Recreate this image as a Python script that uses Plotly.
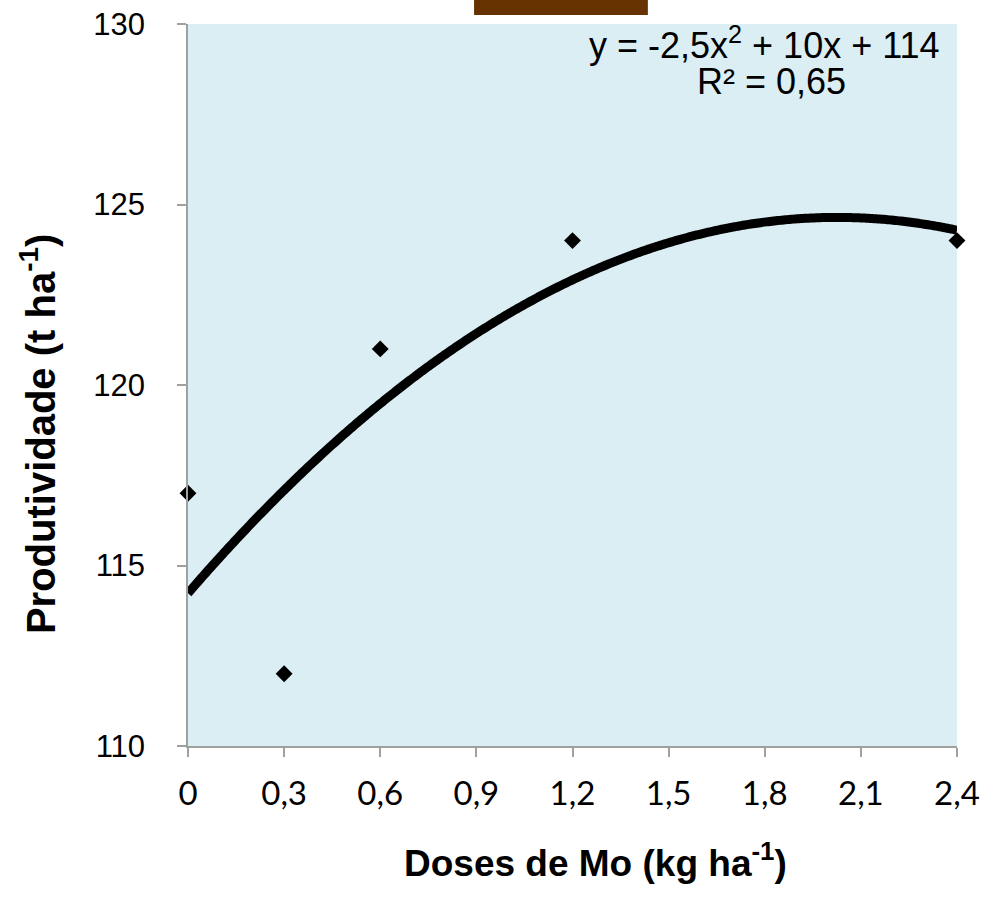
import numpy as np
import plotly.graph_objects as go

# Data
doses = [0, 0.3, 0.6, 1.2, 2.4]
produtividade = [117, 112, 121, 124, 124]
x_tickvals = [0, 0.3, 0.6, 0.9, 1.2, 1.5, 1.8, 2.1, 2.4]
x_ticktext = ["0", "0,3", "0,6", "0,9", "1,2", "1,5", "1,8", "2,1", "2,4"]
y_tickvals = [110, 115, 120, 125, 130]
y_ticktext = ["110", "115", "120", "125", "130"]
equation_line1 = "y = -2,5x<sup>2</sup> + 10x + 114"
equation_line2 = "R² = 0,65"

# Polynomial (order 2) trendline computed from the data
coef = np.polyfit(doses, produtividade, 2)
xs = np.linspace(min(doses), max(doses), 400)
ys = np.polyval(coef, xs)

fig = go.Figure()
fig.add_trace(go.Scatter(
    x=doses, y=produtividade, mode="markers",
    marker=dict(symbol="diamond", size=13, color="black", line=dict(width=0)),
    cliponaxis=False, showlegend=False, hoverinfo="skip"))
fig.add_trace(go.Scatter(
    x=xs, y=ys, mode="lines",
    line=dict(color="black", width=9, simplify=False),
    showlegend=False, hoverinfo="skip"))

axis_color = "#a0a0a0"
fig.update_layout(
    width=988, height=899,
    margin=dict(l=188, r=31, t=24, b=153),
    paper_bgcolor="white",
    plot_bgcolor="#DAEEF3",
    xaxis=dict(
        range=[0, 2.4], tickvals=x_tickvals, ticktext=x_ticktext,
        showgrid=False, zeroline=False, showline=True, linecolor=axis_color, linewidth=1.5,
        ticks="outside", ticklen=9, tickcolor=axis_color, tickwidth=1.5,
        tickfont=dict(family="Lato, Open Sans, sans-serif", size=33, color="black"),
        ticklabelstandoff=9, automargin=False,
    ),
    yaxis=dict(
        range=[110, 130], tickvals=y_tickvals, ticktext=y_ticktext,
        showgrid=False, zeroline=False, showline=True, linecolor=axis_color, linewidth=1.5,
        ticks="outside", ticklen=9, tickcolor=axis_color, tickwidth=1.5,
        tickfont=dict(family="Liberation Sans, Arial, sans-serif", size=31, color="black"),
        ticklabelstandoff=26, automargin=False,
    ),
    font=dict(family="Liberation Sans, Arial, sans-serif", color="black"),
)

fig.add_annotation(
    xref="paper", yref="paper", x=0.53, y=-0.158,
    text="<b>Doses de Mo (kg ha<sup>-1</sup>)</b>", showarrow=False,
    xanchor="center", yanchor="middle",
    font=dict(family="Liberation Sans, Arial, sans-serif", size=37, color="black"))
fig.add_annotation(
    xref="paper", yref="paper", x=0, xshift=-150, y=0.432,
    text="<b>Produtividade (t ha<sup>-1</sup>)</b>", showarrow=False, textangle=-90,
    xanchor="center", yanchor="middle",
    font=dict(family="Liberation Sans, Arial, sans-serif", size=40, color="black"))
fig.add_annotation(
    xref="paper", yref="paper", x=0.9805, y=0.973,
    text=equation_line1, showarrow=False,
    xanchor="right", yanchor="middle",
    font=dict(family="Liberation Sans, Arial, sans-serif", size=36, color="black"))
fig.add_annotation(
    xref="paper", yref="paper", x=(771 - 188) / 769, y=0.921,
    text=equation_line2, showarrow=False,
    xanchor="center", yanchor="middle",
    font=dict(family="Liberation Sans, Arial, sans-serif", size=36, color="black"))

fig.add_shape(type="rect", xref="paper", yref="paper",
              x0=0.372, x1=0.598, y0=1.0125, y1=1.04,
              fillcolor="#663300", line=dict(width=0), layer="above")

fig.write_html("out.html")
